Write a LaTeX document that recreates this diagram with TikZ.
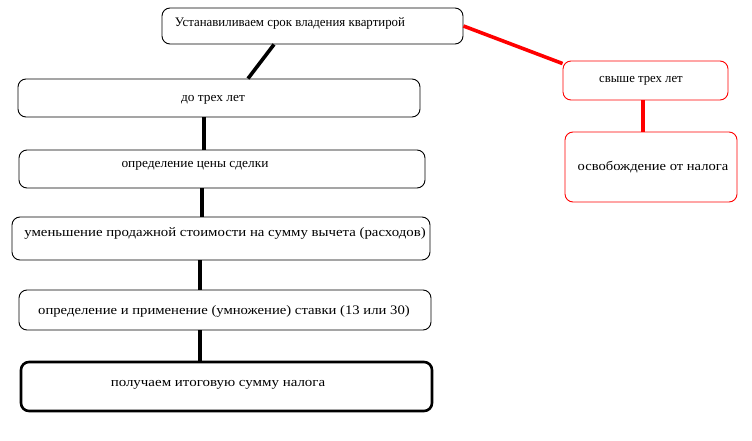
\documentclass[tikz,border=0pt]{standalone}
\usepackage{fontspec}
\setmainfont{Liberation Serif}
\newcommand{\hs}[2]{\scalebox{#1}[1]{#2}}
\begin{document}
\begin{tikzpicture}[x=1pt,y=-1pt,
  box/.style={draw=black,line width=0.9pt,rounded corners=8pt,inner sep=0pt},
  thickbox/.style={box,line width=2.6pt},
  redbox/.style={draw=red,line width=0.9pt,rounded corners=8pt,inner sep=0pt},
  lbl/.style={inner sep=0pt,font=\fontsize{13}{15}\selectfont},
  blk/.style={draw=black,line width=3.6pt},
  rd/.style={draw=red,line width=3.6pt}]
\useasboundingbox (0,0) rectangle (752,441);
\node[box,minimum width=301pt,minimum height=36pt] (b1) at (312.5,26) {};
\node[box,minimum width=402pt,minimum height=38pt] (b2) at (219,98) {};
\node[box,minimum width=406pt,minimum height=38pt] (b3) at (222,169) {};
\node[box,minimum width=418pt,minimum height=43pt] (b4) at (221,238.5) {};
\node[box,minimum width=412pt,minimum height=40pt] (b5) at (225,310) {};
\node[thickbox,minimum width=411pt,minimum height=49pt] (b6) at (226.5,386.5) {};
\node[redbox,minimum width=165pt,minimum height=39pt] (r1) at (645.5,80.5) {};
\node[redbox,minimum width=172pt,minimum height=70pt] (r2) at (651,167) {};
\node[lbl] (t1) at (290,23.5) {\hs{0.99}{Устанавиливаем срок владения квартирой}};
\node[lbl] (t2) at (213,99.5) {\hs{1.03}{до трех лет}};
\node[lbl] (t3) at (195,165.5) {\hs{1.03}{определение цены сделки}};
\node[lbl] (t4) at (225,233.5) {\hs{1.14}{уменьшение продажной стоимости на сумму вычета (расходов)}};
\node[lbl] (t5) at (224,311.5) {\hs{1.13}{определение и применение (умножение) ставки (13 или 30)}};
\node[lbl] (t6) at (218,384.5) {\hs{1.15}{получаем итоговую сумму налога}};
\node[lbl] (t7) at (641,80.5) {\hs{0.98}{свыше трех лет}};
\node[lbl] (t8) at (653,167.5) {\hs{1.12}{освобождение от налога}};
\draw[blk] (274,0 |- b1.south) -- (248,0 |- b2.north);
\draw[blk] (204,0 |- b2.south) -- (204,0 |- b3.north);
\draw[blk] (202,0 |- b3.south) -- (202,0 |- b4.north);
\draw[blk] (200,0 |- b4.south) -- (200,0 |- b5.north);
\draw[blk] (200,0 |- b5.south) -- (200,0 |- b6.north);
\draw[rd] (b1.east) -- ([yshift=-3pt]r1.north west);
\draw[rd] (643,0 |- r1.south) -- (643,0 |- r2.north);
\end{tikzpicture}
\end{document}
